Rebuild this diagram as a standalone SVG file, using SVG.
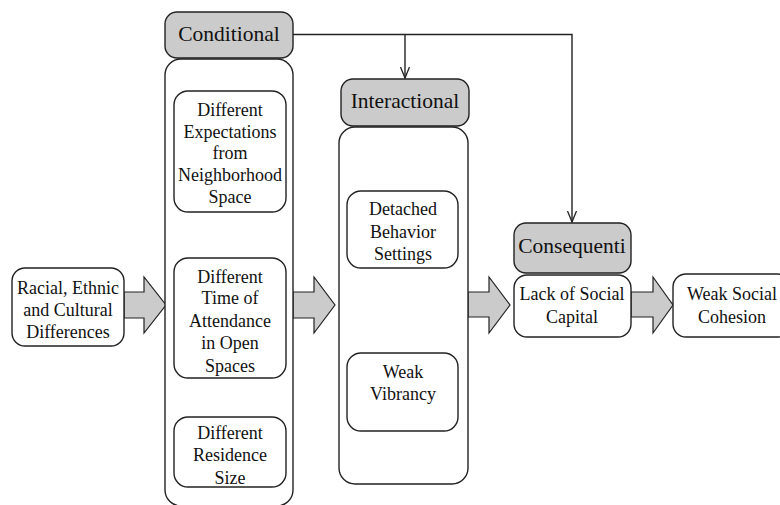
<svg xmlns="http://www.w3.org/2000/svg" width="780" height="505" viewBox="0 0 780 505">
<defs>
<style>
.box{fill:#fff;stroke:#222;stroke-width:1.4}
.hdr{fill:#cbcbcb;stroke:#222;stroke-width:1.4}
.blk{fill:#cbcbcb;stroke:#222;stroke-width:1.2;stroke-linejoin:miter}
.t{font-family:"Liberation Serif","DejaVu Serif",serif;font-size:18px;fill:#111;text-anchor:middle;dominant-baseline:central}
.h{font-family:"Liberation Serif","DejaVu Serif",serif;font-size:21.5px;fill:#111;text-anchor:middle;dominant-baseline:central}
.ln{fill:none;stroke:#222;stroke-width:1.4}
</style>
<marker id="v" viewBox="0 0 12 10" refX="11.5" refY="5" markerWidth="12" markerHeight="10" markerUnits="userSpaceOnUse" orient="auto">
<path d="M0.5 0.5 L11.5 5 L0.5 9.5" fill="none" stroke="#222" stroke-width="1.3"/>
</marker>
</defs>

<g id="connectors">
<path class="ln" d="M292 34.5 H572 V222" marker-end="url(#v)"/>
<path class="ln" d="M405 34.5 V78" marker-end="url(#v)"/>
<polygon class="blk" points="124,292 144,292 144,277 166,305 144,333 144,318 124,318"/>
<polygon class="blk" points="293,292 314,292 314,277 335,305 314,333 314,318 293,318"/>
<polygon class="blk" points="468,292 489,292 489,277 510,305 489,333 489,317 468,317"/>
<polygon class="blk" points="631,292 653,292 653,277 673,305 653,333 653,317 631,317"/>
</g>

<g id="racial">
<rect class="box" x="12" y="268" width="112" height="78" rx="13"/>
<text class="t" x="68" y="288">Racial, Ethnic</text>
<text class="t" x="68" y="310">and Cultural</text>
<text class="t" x="68" y="332">Differences</text>
</g>

<g id="conditional">
<rect class="hdr" x="165" y="12" width="128" height="46" rx="12"/>
<text class="h" x="229" y="34">Conditional</text>
<rect class="box" x="165" y="59" width="128" height="447" rx="16"/>
</g>

<g id="expectations">
<rect class="box" x="174" y="91" width="112" height="121" rx="14"/>
<text class="t" x="230" y="110">Different</text>
<text class="t" x="230" y="132">Expectations</text>
<text class="t" x="230" y="153">from</text>
<text class="t" x="230" y="175">Neighborhood</text>
<text class="t" x="230" y="197">Space</text>
</g>

<g id="time">
<rect class="box" x="174" y="258" width="112" height="120" rx="14"/>
<text class="t" x="230" y="277">Different</text>
<text class="t" x="230" y="298">Time of</text>
<text class="t" x="230" y="321">Attendance</text>
<text class="t" x="230" y="343">in Open</text>
<text class="t" x="230" y="366">Spaces</text>
</g>

<g id="residence">
<rect class="box" x="174" y="417" width="112" height="70" rx="14"/>
<text class="t" x="230" y="433">Different</text>
<text class="t" x="230" y="455">Residence</text>
<text class="t" x="230" y="478">Size</text>
</g>

<g id="interactional">
<rect class="hdr" x="341" y="79" width="128" height="47" rx="12"/>
<text class="h" x="405" y="101">Interactional</text>
<rect class="box" x="339" y="127" width="129" height="357" rx="16"/>
</g>

<g id="detached">
<rect class="box" x="347" y="191" width="111" height="77" rx="14"/>
<text class="t" x="403" y="209">Detached</text>
<text class="t" x="403" y="232">Behavior</text>
<text class="t" x="403" y="254">Settings</text>
</g>

<g id="vibrancy">
<rect class="box" x="347" y="353" width="111" height="78" rx="14"/>
<text class="t" x="403" y="372">Weak</text>
<text class="t" x="403" y="394">Vibrancy</text>
</g>

<g id="consequential">
<rect class="hdr" x="514" y="223" width="117" height="50" rx="12"/>
<text class="h" x="572" y="246">Consequenti</text>
</g>

<g id="lack">
<rect class="box" x="514" y="275" width="117" height="62" rx="13"/>
<text class="t" x="572" y="294">Lack of Social</text>
<text class="t" x="572" y="317">Capital</text>
</g>

<g id="cohesion">
<rect class="box" x="673" y="274" width="117" height="63" rx="13"/>
<text class="t" x="732" y="294">Weak Social</text>
<text class="t" x="732" y="317">Cohesion</text>
</g>
</svg>
